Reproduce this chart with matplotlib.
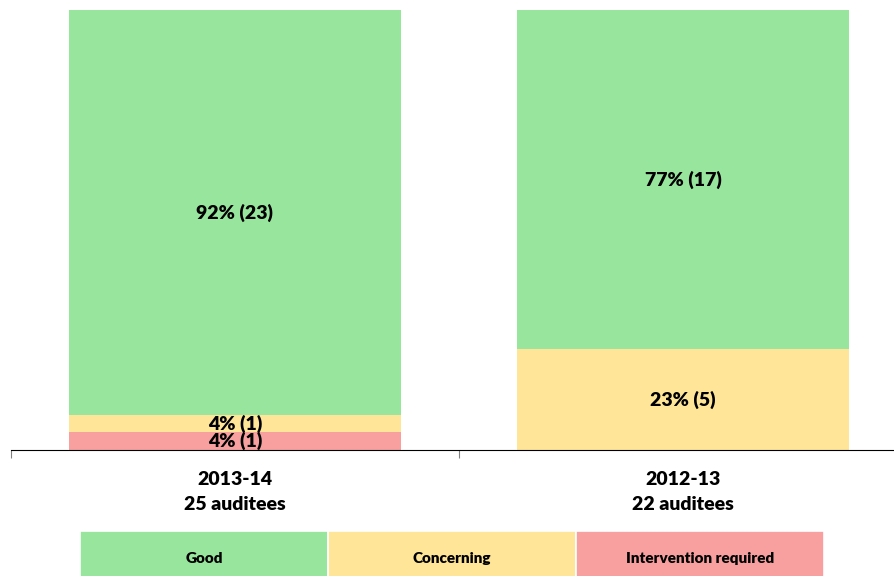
import numpy as np
import matplotlib.pyplot as plt

plt.rcParams['font.family'] = ['Lato', 'DejaVu Sans']

years = ["2013-14\n25 auditees", "2012-13\n22 auditees"]
categories = ["Good", "Concerning", "Intervention required"]
colors = ["#98E69E", "#FEE597", "#F8A0A0"]
# stacking order bottom -> top: Intervention, Concerning, Good
intervention = [4, 0]
concerning = [4, 23]
good = [92, 77]
counts_int = [1, 0]
counts_con = [1, 5]
counts_good = [23, 17]

W = 'heavy'

fig = plt.figure(figsize=(8.95, 5.76), dpi=100)
ax = fig.add_axes([11/895, 126/576, 896/895, 440/576])

x = np.arange(len(years))
bottom = np.zeros(len(years))
for vals, cnts, col in [(intervention, counts_int, colors[2]),
                        (concerning, counts_con, colors[1]),
                        (good, counts_good, colors[0])]:
    vals = np.array(vals, dtype=float)
    ax.bar(x, vals, bottom=bottom, width=0.74, color=col, edgecolor='none')
    for i in range(len(x)):
        if vals[i] > 0:
            ax.text(x[i], bottom[i] + vals[i]/2, "%d%% (%d)" % (vals[i], cnts[i]),
                    ha='center', va='center', fontsize=14, fontweight=W)
    bottom += vals

ax.set_xlim(-0.5, 1.5)
ax.set_ylim(0, 100)
ax.set_xticks([-0.5, 0.5, 1.5], minor=False)
ax.set_xticklabels([])
ax.set_xticks(x, minor=True)
ax.set_xticklabels(years, minor=True, fontsize=14, fontweight=W, linespacing=1.55)
ax.tick_params(axis='x', which='major', length=6, color='#808080', direction='out')
ax.tick_params(axis='x', which='minor', length=0, pad=15)
ax.set_yticks([])
for s in ['top', 'right', 'left']:
    ax.spines[s].set_visible(False)
ax.spines['bottom'].set_color('black')

# legend as colored boxes
lax = fig.add_axes([80/895, -5/576, 744/895, 50/576])
for i, (cat, col) in enumerate(zip(categories, colors)):
    lax.barh(0, 1, left=i, height=1, color=col, edgecolor='white', linewidth=1.2)
    lax.text(i + 0.5, -0.05, cat, ha='center', va='center', fontsize=11, fontweight=W)
lax.set_xlim(0, 3)
lax.set_ylim(-0.5, 0.5)
lax.axis('off')

plt.savefig('out.png')
